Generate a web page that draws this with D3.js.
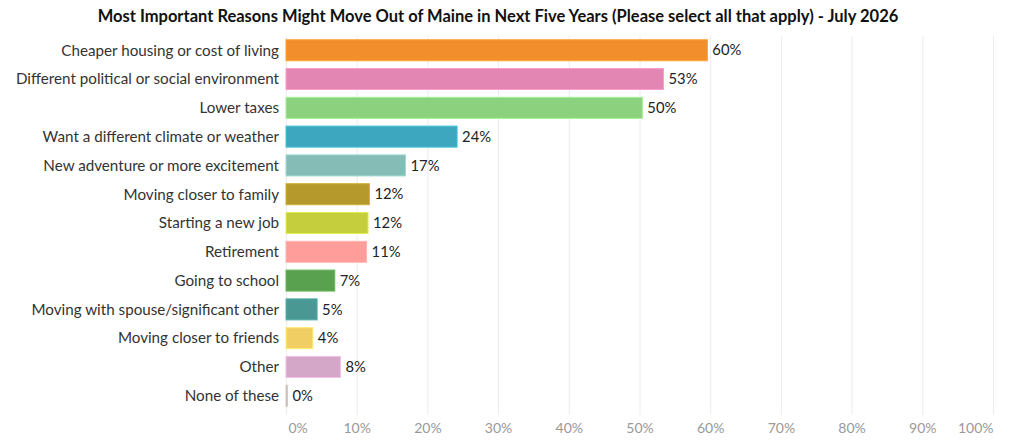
<!DOCTYPE html>
<html>
<head>
<meta charset="utf-8">
<script src="https://cdn.jsdelivr.net/npm/d3@7"></script>
<style>
  body { margin: 0; background: #fff; }
  svg { display: block; }
</style>
</head>
<body>
<script>
// Chart data
const reasons = [
    "Cheaper housing or cost of living",
    "Different political or social environment",
    "Lower taxes",
    "Want a different climate or weather",
    "New adventure or more excitement",
    "Moving closer to family",
    "Starting a new job",
    "Retirement",
    "Going to school",
    "Moving with spouse/significant other",
    "Moving closer to friends",
    "Other",
    "None of these"
];
const shares = [59.6, 53.4, 50.4, 24.2, 16.9, 11.8, 11.6, 11.4, 6.9, 4.4, 3.8, 7.7, 0.2];
const shareLabels = ["60%", "53%", "50%", "24%", "17%", "12%", "12%", "11%", "7%", "5%", "4%", "8%", "0%"];
const barColors = ["#F28E2B", "#E386B3", "#8CD17D", "#3CA7BE", "#86BCB6", "#B6992D", "#C5CF3E",
                   "#FF9D9A", "#59A14F", "#499894", "#F1CE63", "#D4A6C8", "#BAB0AC"];
const xTicks = [0, 10, 20, 30, 40, 50, 60, 70, 80, 90, 100];
const title = "Most Important Reasons Might Move Out of Maine in Next Five Years (Please select all that apply) - July 2026";

const W = 1024, H = 447;
const margin = { top: 36, right: 31, bottom: 32, left: 286 };

const svg = d3.select("body").append("svg")
    .attr("width", W)
    .attr("height", H)
    .style("font-family", "Lato, 'Open Sans', sans-serif");

const x = d3.scaleLinear()
    .domain([0, 100])
    .range([margin.left, W - margin.right]);

const y = d3.scaleBand()
    .domain(reasons)
    .range([margin.top, H - margin.bottom - 5])
    .paddingInner(0.27)
    .paddingOuter(0.13);

// Title
svg.append("text")
    .attr("x", 498)
    .attr("y", 22)
    .attr("text-anchor", "middle")
    .style("font-weight", "bold")
    .style("font-size", "16.5px")
    .style("fill", "#111")
    .text(title);

// Gridlines
svg.append("g")
    .selectAll("line")
    .data(xTicks)
    .enter().append("line")
    .attr("x1", d => x(d) + 0.5)
    .attr("x2", d => x(d) + 0.5)
    .attr("y1", margin.top)
    .attr("y2", H - margin.bottom)
    .style("stroke", "#ececec")
    .style("stroke-width", 1);

// X axis
const xAxis = svg.append("g")
    .attr("transform", `translate(0, ${H - margin.bottom})`)
    .call(d3.axisBottom(x).tickValues(xTicks).tickFormat(d => d + "%").tickSize(0).tickPadding(8));
xAxis.select(".domain").remove();
xAxis.selectAll("text")
    .style("font-family", "Lato, 'Open Sans', sans-serif")
    .style("font-size", "14px")
    .style("fill", "#999")
    .attr("text-anchor", d => d === 0 ? "start" : (d === 100 ? "end" : "middle"))
    .attr("dx", d => d === 0 ? 2 : 0);

// Bars
svg.append("g")
    .selectAll("rect")
    .data(reasons)
    .enter().append("rect")
    .attr("x", x(0))
    .attr("y", d => y(d))
    .attr("width", (d, i) => Math.max(1.5, x(shares[i]) - x(0)))
    .attr("height", y.bandwidth())
    .style("fill", (d, i) => barColors[i])
    .style("stroke", (d, i) => d3.color(barColors[i]).brighter(0.4))
    .style("stroke-width", 1);

// Category labels
svg.append("g")
    .selectAll("text")
    .data(reasons)
    .enter().append("text")
    .attr("x", x(0) - 7)
    .attr("y", d => y(d) + y.bandwidth() / 2)
    .attr("dy", "0.35em")
    .attr("text-anchor", "end")
    .style("font-size", "15.2px")
    .style("fill", "#333")
    .text(d => d);

// Value labels
svg.append("g")
    .selectAll("text")
    .data(reasons)
    .enter().append("text")
    .attr("x", (d, i) => x(shares[i]) + 5)
    .attr("y", d => y(d) + y.bandwidth() / 2)
    .attr("dy", "0.35em")
    .style("font-size", "14.8px")
    .style("fill", "#222")
    .text((d, i) => shareLabels[i]);
</script>
</body>
</html>
